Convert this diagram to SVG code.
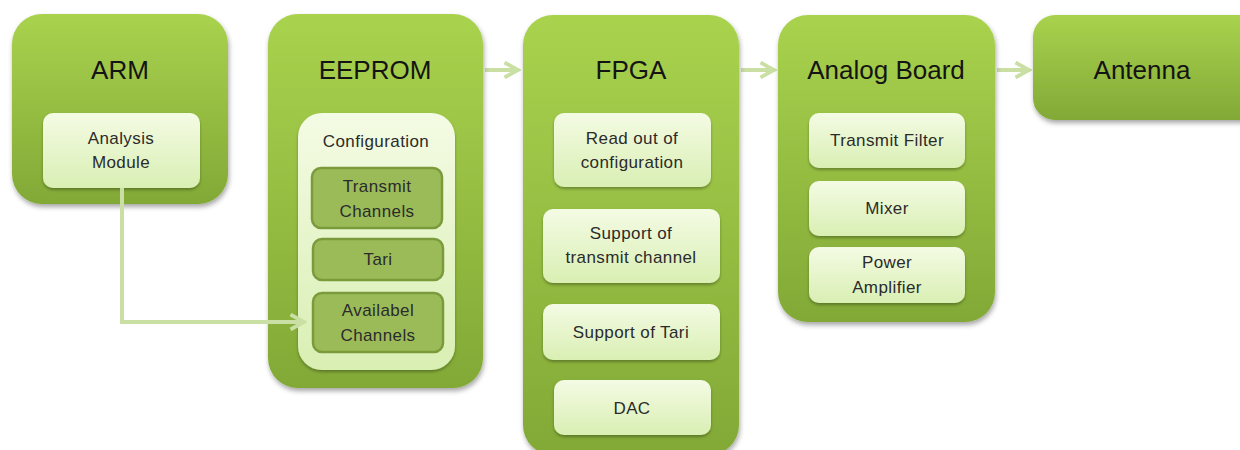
<svg xmlns="http://www.w3.org/2000/svg" width="1240" height="450" viewBox="0 0 1240 450">
<defs>
<linearGradient id="gOuter" x1="0" y1="0" x2="0" y2="1">
<stop offset="0" stop-color="#a9d24e"/>
<stop offset="1" stop-color="#82a936"/>
</linearGradient>
<linearGradient id="gLight" x1="0" y1="0" x2="0" y2="1">
<stop offset="0" stop-color="#f4fbe4"/>
<stop offset="1" stop-color="#d9efb3"/>
</linearGradient>
<filter id="sh" x="-10%" y="-10%" width="125%" height="125%">
<feDropShadow dx="1" dy="3" stdDeviation="2.5" flood-color="#000" flood-opacity="0.35"/>
</filter>
<filter id="sh2" x="-10%" y="-10%" width="125%" height="130%">
<feDropShadow dx="0" dy="2" stdDeviation="1.5" flood-color="#000" flood-opacity="0.3"/>
</filter>
<marker id="arr" viewBox="0 0 12 12" refX="10" refY="6" markerWidth="4.5" markerHeight="4.5" orient="auto" markerUnits="strokeWidth">
<path d="M1,1 L10,6 L1,11" fill="none" stroke="#c9dfa4" stroke-width="2.5"/>
</marker>
</defs>
<style>
.outer{fill:url(#gOuter);filter:url(#sh);}
.light{fill:url(#gLight);filter:url(#sh2);}
.dark{fill:#9bbb59;stroke:#7b9a3c;stroke-width:2.5;}
.title{font-family:"Liberation Sans",Arial,sans-serif;font-size:26px;fill:#141414;text-anchor:middle;}
.lbl{font-family:"Liberation Sans",Arial,sans-serif;font-size:17px;fill:#2b2b2b;text-anchor:middle;letter-spacing:0.4px;}
.conn{fill:none;stroke:#c9dfa4;stroke-width:4;}
</style>
<rect width="1240" height="450" fill="#ffffff"/>

<g id="connectors">
<line class="conn" x1="485" y1="70" x2="518" y2="70" marker-end="url(#arr)"/>
<line class="conn" x1="741" y1="70" x2="774" y2="70" marker-end="url(#arr)"/>
<line class="conn" x1="997" y1="70" x2="1029" y2="70" marker-end="url(#arr)"/>
</g>

<g id="arm">
<rect class="outer" x="12" y="14" width="216" height="190" rx="30"/>
<text class="title" x="120" y="79">ARM</text>
<g id="analysis-module">
<rect class="light" x="43" y="113" width="157" height="75" rx="10"/>
<text class="lbl" x="121" y="144">Analysis</text>
<text class="lbl" x="121" y="168">Module</text>
</g>
</g>

<g id="eeprom">
<rect class="outer" x="268" y="14" width="215" height="374" rx="30"/>
<text class="title" x="375" y="79">EEPROM</text>
<g id="configuration">
<rect class="light" x="298" y="113" width="157" height="257" rx="24"/>
<text class="lbl" x="376" y="147">Configuration</text>
</g>
<g id="transmit-channels">
<rect class="dark" x="312" y="168" width="130" height="60" rx="9"/>
<text class="lbl" x="377" y="192">Transmit</text>
<text class="lbl" x="377" y="217">Channels</text>
</g>
<g id="tari">
<rect class="dark" x="313" y="239" width="130" height="41" rx="9"/>
<text class="lbl" x="378" y="265">Tari</text>
</g>
<g id="availabel-channels">
<rect class="dark" x="313" y="293" width="130" height="59" rx="9"/>
<text class="lbl" x="378" y="316">Availabel</text>
<text class="lbl" x="378" y="341">Channels</text>
</g>
</g>

<g id="fpga">
<rect class="outer" x="523" y="15" width="216" height="440" rx="30"/>
<text class="title" x="631" y="79">FPGA</text>
<g id="read-out">
<rect class="light" x="554" y="113" width="157" height="74" rx="10"/>
<text class="lbl" x="632" y="144">Read out of</text>
<text class="lbl" x="632" y="168">configuration</text>
</g>
<g id="support-transmit">
<rect class="light" x="543" y="209" width="177" height="74" rx="10"/>
<text class="lbl" x="631" y="239">Support of</text>
<text class="lbl" x="631" y="263">transmit channel</text>
</g>
<g id="support-tari">
<rect class="light" x="543" y="304" width="177" height="56" rx="10"/>
<text class="lbl" x="631" y="338">Support of Tari</text>
</g>
<g id="dac">
<rect class="light" x="554" y="380" width="157" height="55" rx="10"/>
<text class="lbl" x="632" y="414">DAC</text>
</g>
</g>

<g id="analog-board">
<rect class="outer" x="778" y="15" width="217" height="307" rx="30"/>
<text class="title" x="886" y="79">Analog Board</text>
<g id="transmit-filter">
<rect class="light" x="809" y="113" width="156" height="55" rx="10"/>
<text class="lbl" x="887" y="146">Transmit Filter</text>
</g>
<g id="mixer">
<rect class="light" x="809" y="181" width="156" height="55" rx="10"/>
<text class="lbl" x="887" y="214">Mixer</text>
</g>
<g id="power-amplifier">
<rect class="light" x="809" y="247" width="156" height="56" rx="10"/>
<text class="lbl" x="887" y="268">Power</text>
<text class="lbl" x="887" y="293">Amplifier</text>
</g>
</g>

<g id="antenna">
<rect class="outer" x="1033" y="15" width="230" height="105" rx="22"/>
<text class="title" x="1142" y="79">Antenna</text>
</g>

<g id="connectors-2">
<polyline class="conn" points="122,188 122,322 304,322" marker-end="url(#arr)"/>
</g>
</svg>
